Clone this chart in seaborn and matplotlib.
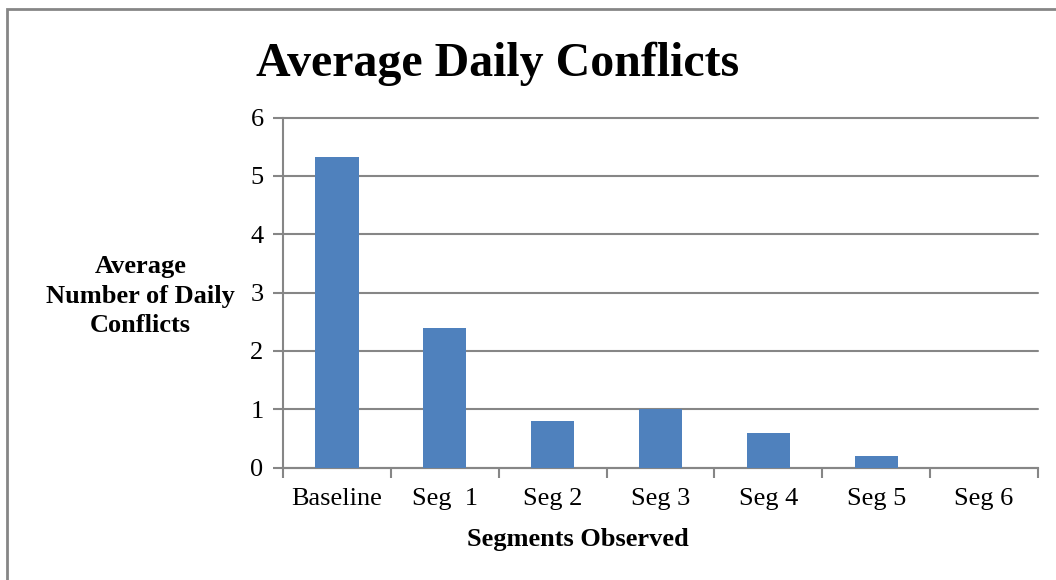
import matplotlib
matplotlib.use("Agg")
import matplotlib.pyplot as plt
import seaborn as sns
import pandas as pd
from matplotlib.patches import Rectangle

categories = ["Baseline", "Seg  1", "Seg 2", "Seg 3", "Seg 4", "Seg 5", "Seg 6"]
values = [5.33, 2.4, 0.8, 1.0, 0.6, 0.2, 0.0]
y_ticks = [0, 1, 2, 3, 4, 5, 6]

df = pd.DataFrame({"segment": categories, "value": values})

sns.set_theme(style="white")
plt.rcParams["font.family"] = ["Liberation Serif", "DejaVu Serif"]
plt.rcParams["text.color"] = "black"
plt.rcParams["axes.labelcolor"] = "black"

fig = plt.figure(figsize=(10.56, 5.8), dpi=100)
ax = fig.add_axes([283/1056, 1 - 467.5/580, 755/1056, 350/580])

grey = "#868686"
sns.barplot(data=df, x="segment", y="value", color="#4F81BD", saturation=1,
            width=0.4, ax=ax, zorder=3, linewidth=0)

ax.set_ylim(0, 6)
ax.set_xlim(-0.5, len(categories) - 0.5)
ax.set_yticks(y_ticks)
ax.set_yticklabels([str(t) for t in y_ticks])
ax.yaxis.grid(True, color=grey, linewidth=1.5, zorder=0)
for gl in ax.get_ygridlines():
    gl.set_clip_on(False)
ax.set_axisbelow(True)

for s in ["top", "right"]:
    ax.spines[s].set_visible(False)
for s in ["left", "bottom"]:
    ax.spines[s].set_color(grey)
    ax.spines[s].set_linewidth(1.5)

ax.tick_params(axis="y", which="major", left=True, length=7, width=1.5,
               color=grey, labelsize=19, pad=7, labelcolor="black")
ax.tick_params(axis="x", which="major", bottom=False, labelsize=19, pad=9,
               labelcolor="black")
ax.set_xticks(range(len(categories)))
ax.set_xticklabels(categories)
ax.set_xticks([i - 0.5 for i in range(len(categories) + 1)], minor=True)
ax.tick_params(axis="x", which="minor", bottom=True, length=7, width=1.5,
               color=grey)

ax.set_xlabel("Segments Observed", fontsize=19, fontweight="bold", color="black")
ax.xaxis.set_label_coords(0.39, -0.172)
ax.set_ylabel("Average\nNumber of Daily\nConflicts", fontsize=19,
              fontweight="bold", rotation=0, ha="center", va="center",
              linespacing=1.38, color="black")
ax.yaxis.set_label_coords(-0.189, 0.49)

fig.text(498/1056, 1 - 64/580, "Average Daily Conflicts", fontsize=34.5,
         fontweight="bold", ha="center", va="center", color="black")

border = Rectangle((7/1056, -0.1), 1.2, 1 - 9/580 + 0.1, transform=fig.transFigure,
                   fill=False, edgecolor=grey, linewidth=2)
fig.patches.append(border)

fig.savefig("out.png", dpi=100)
